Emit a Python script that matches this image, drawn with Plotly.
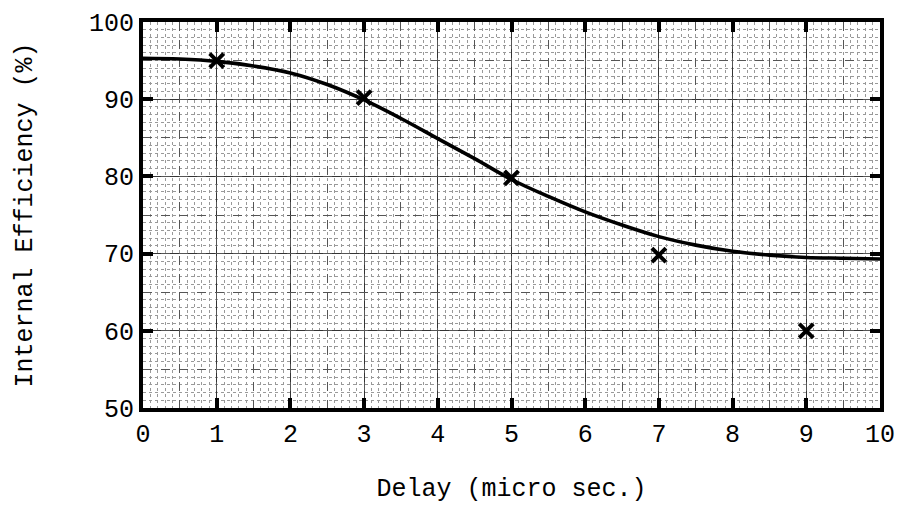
import plotly.graph_objects as go

# measured points (crosses)
delay_pts = [1, 3, 5, 7, 9]
eff_pts = [95.0, 90.2, 79.8, 69.8, 60.0]

# hand-drawn fitted curve
curve_x = [0, 0.5, 1, 1.5, 2, 2.5, 3, 3.5, 4, 4.5, 5, 5.5, 6, 6.5, 7, 7.5, 8, 8.5, 9, 9.5, 10]
curve_y = [95.3, 95.2, 94.9, 94.3, 93.4, 91.9, 89.9, 87.5, 84.9, 82.3, 79.6, 77.4, 75.4, 73.7, 72.2, 71.1, 70.3, 69.8, 69.5, 69.4, 69.3]

x_ticks = [0, 1, 2, 3, 4, 5, 6, 7, 8, 9, 10]
y_ticks = [50, 60, 70, 80, 90, 100]

FONT = "Liberation Mono"

fig = go.Figure()
# invisible trace to carry the half-step grid axes
fig.add_trace(go.Scatter(x=[0, 10], y=[50, 100], xaxis="x2", yaxis="y2", mode="markers",
                         marker=dict(opacity=0), showlegend=False, hoverinfo="skip"))
fig.add_trace(go.Scatter(x=curve_x, y=curve_y, mode="lines", line=dict(color="black", width=3.6, shape="spline"),
                         showlegend=False, hoverinfo="skip"))
fig.add_trace(go.Scatter(x=delay_pts, y=eff_pts, mode="markers",
                         marker=dict(symbol="x-thin", size=14, line=dict(color="black", width=4)),
                         showlegend=False))

fig.update_layout(
    width=915, height=505,
    margin=dict(l=135, r=43, t=14, b=105),
    paper_bgcolor="white", plot_bgcolor="white",
    font=dict(family=FONT, color="black"),
    xaxis=dict(range=[0, 10], tickvals=x_ticks, ticktext=[str(v) for v in x_ticks],
               ticks="inside", ticklen=10, tickwidth=4, tickcolor="black",
               showline=True, linewidth=4, linecolor="black", mirror="ticks",
               showgrid=True, gridcolor="#333", gridwidth=1.2, automargin=False,
               minor=dict(dtick=0.1, showgrid=True, gridcolor="#999", griddash="dot", gridwidth=1),
               tickfont=dict(size=25, family=FONT), zeroline=False,
               title=dict(text="Delay (micro sec.)", font=dict(size=25, family=FONT), standoff=30)),
    yaxis=dict(range=[50, 100], tickvals=y_ticks, ticktext=[str(v) for v in y_ticks],
               ticks="inside", ticklen=10, tickwidth=4, tickcolor="black",
               showline=True, linewidth=4, linecolor="black", mirror="ticks",
               showgrid=True, gridcolor="#333", gridwidth=1.2, automargin=False,
               minor=dict(dtick=1, showgrid=True, gridcolor="#999", griddash="dot", gridwidth=1),
               tickfont=dict(size=25, family=FONT), zeroline=False,
               title=dict(text="Internal Efficiency (%)", font=dict(size=25, family=FONT), standoff=50)),
    xaxis2=dict(range=[0, 10], dtick=0.5, overlaying="x", showticklabels=False, showgrid=True,
                gridcolor="#555", griddash="dash", gridwidth=1, zeroline=False, ticks="", automargin=False),
    yaxis2=dict(range=[50, 100], dtick=5, overlaying="y", showticklabels=False, showgrid=True,
                gridcolor="#555", griddash="dash", gridwidth=1, zeroline=False, ticks="", automargin=False),
)

fig.write_html("out.html")
